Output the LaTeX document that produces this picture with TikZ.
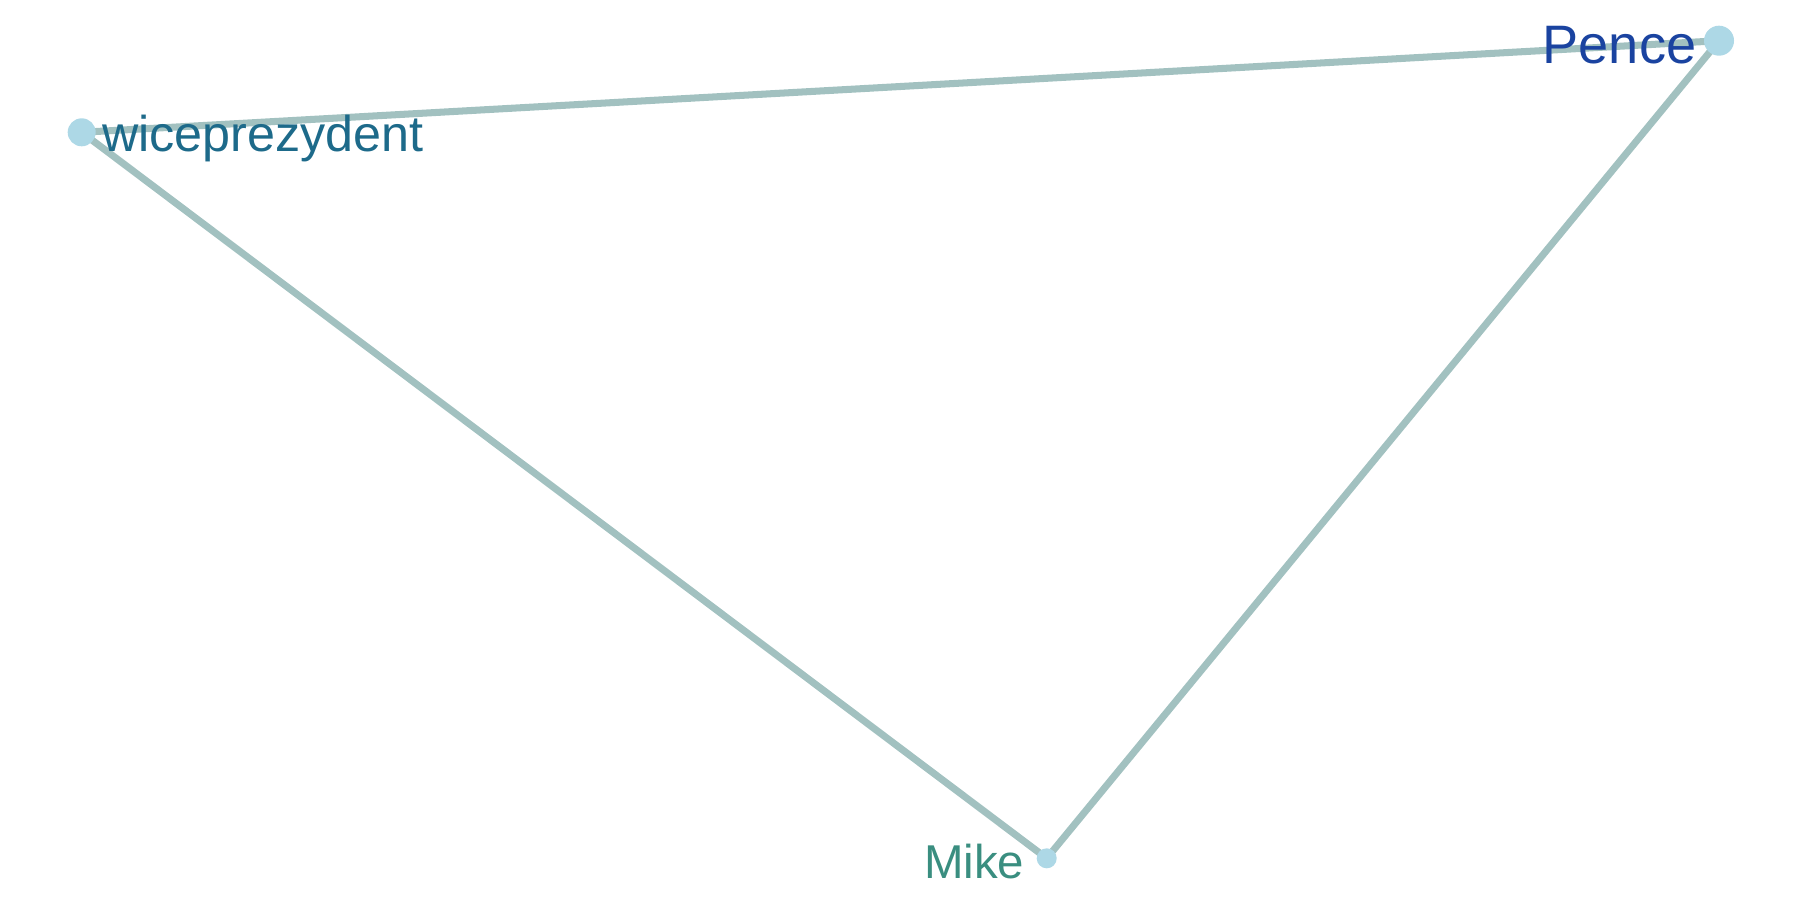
\documentclass[tikz,border=0pt]{standalone}
\usepackage{fontspec}
\setmainfont{Liberation Sans}
\usepackage{xcolor}
\usetikzlibrary{backgrounds}
\definecolor{edgeteal}{RGB}{162,193,192}
\definecolor{dotblue}{RGB}{173,216,230}
\definecolor{wicecolor}{RGB}{29,106,138}
\definecolor{pencecolor}{RGB}{26,67,160}
\definecolor{mikecolor}{RGB}{58,142,128}

\begin{document}
\begin{tikzpicture}[x=0.01cm,y=-0.01cm,
  dot/.style={circle,fill=dotblue,inner sep=0pt},
  edge/.style={edgeteal,line width=2pt},
  word/.style={inner sep=0pt}]
  % --- canvas ---
  \useasboundingbox (0,0) rectangle (1800,900);

  % --- nodes ---
  \node[dot,minimum size=0.28cm] (wice) at (81.7,132.3) {};
  \node[dot,minimum size=0.30cm] (pence) at (1719,40.7) {};
  \node[dot,minimum size=0.20cm] (mike) at (1046.7,858.3) {};

  % --- edges (behind the dots) ---
  \begin{scope}[on background layer]
    \draw[edge] (wice.center) -- (pence.center);
    \draw[edge] (wice.center) -- (mike.center);
    \draw[edge] (pence.center) -- (mike.center);
  \end{scope}

  % --- labels ---
  \node[word,anchor=base west,text=wicecolor,font=\fontsize{14.3}{16}\selectfont]
    (wicelbl) at (101.5,151.7) {wiceprezydent};
  \node[word,anchor=base east,text=pencecolor,font=\fontsize{15.4}{18}\selectfont]
    (pencelbl) at (1697,63.3) {Pence};
  \node[word,anchor=base east,text=mikecolor,font=\fontsize{13.5}{16}\selectfont]
    (mikelbl) at (1025,878.3) {Mike};

\end{tikzpicture}
\end{document}
